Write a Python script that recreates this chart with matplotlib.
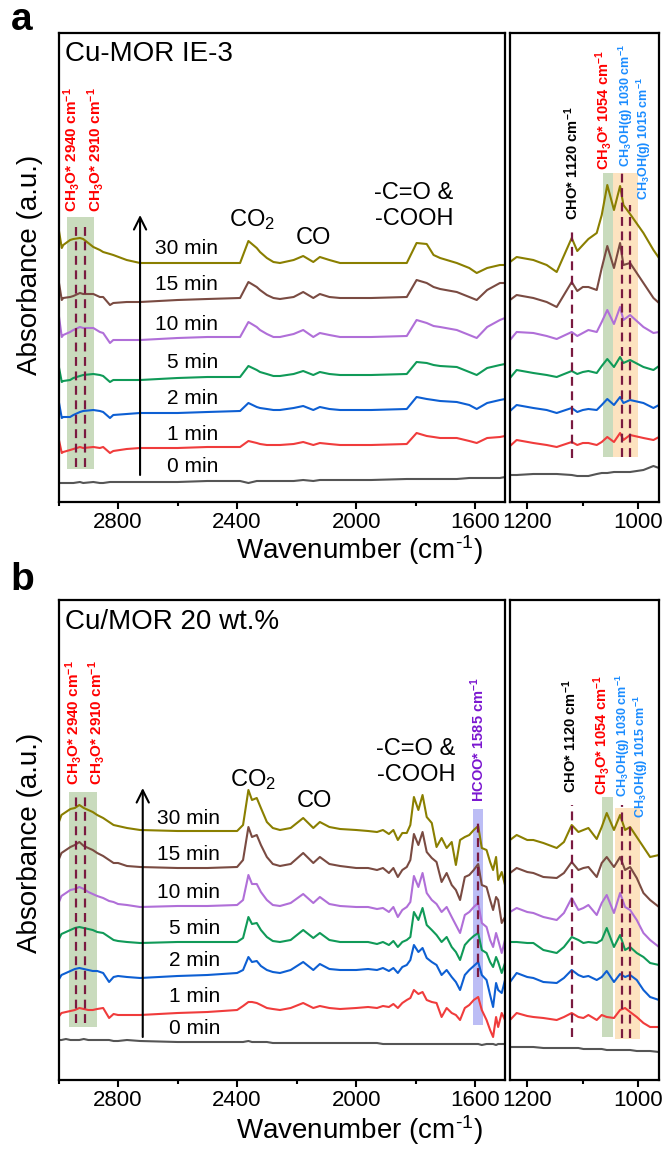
import numpy as np
import matplotlib.pyplot as plt
from matplotlib.ticker import MultipleLocator

plt.rcParams['font.family'] = ['Liberation Sans', 'DejaVu Sans']
plt.rcParams['mathtext.fontset'] = 'custom'
plt.rcParams['mathtext.rm'] = 'Liberation Sans'
plt.rcParams['mathtext.bf'] = 'Liberation Sans:bold'
plt.rcParams['mathtext.default'] = 'regular'

TIMES = ['0 min', '1 min', '2 min', '5 min', '10 min', '15 min', '30 min']
COLORS = ['#555555', '#f03c3c', '#0d5fd3', '#109a58', '#b06fd8', '#7a4b42', '#8a7f00']

# ---- panel a: Cu-MOR IE-3 (stacked spectra, a.u., offsets included) ----
WN_A_LEFT = [3000, 2989, 2984, 2961, 2950, 2928, 2917, 2883, 2861, 2850, 2827, 2816, 2771, 2726,
             2600, 2500, 2390, 2362, 2334, 2323, 2300, 2278, 2256, 2210, 2178, 2144, 2122, 2090,
             2054, 1950, 1830, 1797, 1763, 1740, 1718, 1662, 1620, 1595, 1560, 1517, 1500]
A_LEFT = [
    [27, 27, 27, 27, 27, 28, 27, 28, 27, 27, 28, 28, 28, 28, 28, 29, 29, 27, 29, 29, 29, 29, 29, 29, 30, 29, 30, 30, 30, 30, 31, 31, 31, 31, 31, 31, 32, 32, 32, 32, 33],
    [72, 57, 58, 60, 61, 63, 62, 63, 62, 63, 57, 59, 61, 62, 62, 63, 63, 69, 67, 66, 65, 65, 65, 66, 68, 65, 67, 66, 65, 65, 66, 77, 74, 73, 72, 72, 69, 67, 72, 73, 74],
    [110, 92, 93, 93, 95, 98, 99, 100, 99, 98, 92, 95, 96, 97, 97, 98, 99, 107, 103, 102, 101, 100, 100, 102, 104, 100, 103, 101, 100, 100, 101, 113, 111, 110, 109, 108, 105, 101, 107, 110, 111],
    [145, 128, 129, 130, 132, 134, 135, 136, 135, 134, 128, 130, 130, 130, 132, 133, 133, 144, 140, 138, 136, 134, 134, 136, 139, 135, 138, 136, 135, 135, 136, 148, 147, 145, 144, 143, 138, 135, 142, 145, 146],
    [197, 173, 175, 178, 180, 183, 182, 182, 178, 177, 167, 170, 170, 170, 172, 173, 173, 188, 183, 180, 176, 173, 173, 176, 180, 173, 177, 175, 173, 173, 174, 190, 187, 184, 183, 180, 175, 172, 183, 190, 192],
    [230, 210, 212, 213, 214, 217, 216, 216, 213, 213, 205, 207, 208, 208, 210, 211, 212, 228, 223, 220, 215, 212, 211, 213, 218, 212, 216, 213, 212, 212, 213, 230, 227, 223, 221, 218, 213, 210, 220, 227, 227],
    [282, 262, 265, 270, 271, 272, 271, 263, 260, 258, 256, 255, 250, 247, 247, 247, 247, 269, 262, 258, 252, 248, 247, 250, 254, 248, 253, 250, 247, 247, 247, 267, 266, 255, 252, 247, 242, 237, 242, 245, 245],
]
WN_A_RIGHT = [1231, 1219, 1189, 1165, 1147, 1120, 1110, 1100, 1090, 1075, 1066, 1056, 1044, 1033, 1027, 1015, 991, 973, 963]
A_RIGHT = [
    [35, 35, 36, 36, 36, 35, 34, 34, 34, 36, 37, 37, 38, 38, 38, 38, 40, 44, 42],
    [64, 70, 67, 65, 63, 68, 65, 67, 67, 65, 68, 73, 68, 77, 70, 75, 72, 70, 73],
    [99, 105, 102, 100, 97, 102, 98, 100, 101, 100, 105, 111, 105, 113, 107, 110, 107, 102, 105],
    [132, 140, 137, 135, 133, 139, 136, 138, 139, 137, 144, 151, 143, 153, 147, 150, 143, 140, 144],
    [170, 178, 177, 174, 171, 178, 174, 177, 180, 178, 188, 200, 186, 203, 190, 195, 183, 177, 178],
    [210, 215, 212, 208, 203, 228, 219, 223, 223, 220, 242, 264, 242, 267, 245, 247, 227, 212, 207],
    [248, 253, 250, 245, 238, 272, 259, 265, 271, 277, 295, 325, 300, 324, 305, 296, 277, 260, 252],
]

# ---- panel b: Cu/MOR 20 wt.% ----
WN_B_LEFT = [3000, 2990, 2975, 2960, 2945, 2930, 2915, 2900, 2885, 2870, 2850, 2830, 2815, 2800,
             2770, 2726, 2600, 2500, 2400, 2380, 2362, 2350, 2334, 2320, 2300, 2280, 2256, 2220,
             2178, 2144, 2122, 2090, 2054, 2000, 1960, 1930, 1910, 1890, 1875, 1860, 1845, 1830,
             1818, 1806, 1791, 1777, 1763, 1746, 1730, 1713, 1696, 1679, 1665, 1651, 1635, 1620,
             1605, 1590, 1578, 1562, 1550, 1540, 1530, 1523, 1511, 1500]
B_LEFT = [
    [40, 40, 41, 40, 40, 40, 41, 40, 40, 40, 40, 40, 39, 39, 40, 39, 38, 38, 38, 38, 39, 38, 38, 38, 38, 37, 37, 37, 37, 37, 37, 37, 37,
     37, 37, 37, 36, 36, 36, 36, 36, 36, 36, 36, 36, 36, 36, 36, 36, 36, 36, 36, 36, 36, 36, 36, 36, 36, 35, 36, 36, 36, 35, 36, 36, 36],
    [63, 67, 68, 69, 70, 72, 71, 70, 70, 71, 72, 62, 66, 65, 65, 65, 67, 68, 70, 74, 78, 78, 77, 75, 72, 71, 70, 72, 77, 72, 74, 72, 71,
     72, 73, 72, 74, 73, 76, 72, 77, 80, 82, 90, 86, 88, 80, 78, 77, 63, 72, 67, 65, 60, 72, 75, 80, 83, 70, 60, 50, 43, 63, 53, 67, 60],
    [100, 105, 107, 109, 111, 112, 111, 110, 109, 109, 107, 98, 103, 104, 103, 102, 104, 105, 107, 110, 123, 118, 119, 114, 110, 108, 107, 110, 118, 110, 116, 111, 110,
     110, 111, 110, 112, 109, 112, 107, 113, 115, 120, 135, 128, 132, 122, 118, 115, 105, 110, 103, 98, 90, 105, 110, 114, 118, 105, 100, 85, 73, 97, 90, 87, 100],
    [140, 146, 148, 150, 152, 153, 152, 151, 150, 148, 147, 143, 140, 139, 138, 137, 138, 138, 138, 142, 163, 156, 157, 150, 143, 139, 138, 140, 150, 142, 147, 140, 138,
     138, 138, 136, 138, 135, 139, 133, 138, 140, 143, 168, 160, 172, 155, 150, 145, 138, 143, 133, 128, 120, 135, 140, 144, 147, 130, 127, 118, 113, 123, 118, 107, 117],
    [177, 184, 187, 190, 191, 193, 191, 188, 186, 184, 182, 179, 178, 176, 175, 173, 174, 174, 175, 180, 205, 196, 196, 188, 180, 175, 174, 177, 186, 177, 183, 176, 174,
     173, 173, 171, 172, 168, 173, 163, 170, 173, 178, 204, 193, 207, 187, 180, 176, 168, 173, 163, 155, 147, 165, 168, 173, 177, 157, 153, 140, 133, 147, 140, 127, 140],
    [220, 227, 230, 233, 235, 238, 234, 232, 230, 227, 224, 220, 217, 217, 214, 213, 212, 212, 213, 220, 253, 243, 245, 235, 223, 216, 214, 216, 227, 217, 223, 216, 214,
     212, 212, 210, 212, 207, 212, 203, 210, 213, 220, 246, 235, 248, 228, 222, 218, 198, 207, 195, 190, 180, 203, 205, 210, 216, 195, 193, 180, 170, 183, 180, 157, 163],
    [257, 265, 268, 271, 272, 275, 272, 270, 268, 265, 262, 258, 255, 254, 252, 250, 249, 249, 249, 255, 290, 280, 282, 272, 258, 252, 250, 252, 262, 252, 258, 253, 251,
     250, 249, 248, 250, 246, 250, 240, 247, 247, 255, 283, 270, 285, 263, 257, 233, 242, 232, 238, 215, 240, 243, 245, 250, 254, 232, 230, 218, 210, 223, 200, 208, 195],
]
WN_B_RIGHT = [1231, 1219, 1200, 1189, 1171, 1147, 1134, 1120, 1108, 1099, 1090, 1075, 1066, 1057, 1044, 1033, 1024, 1015, 1003, 991, 979, 963]
B_RIGHT = [
    [33, 33, 33, 33, 32, 32, 32, 32, 32, 31, 31, 31, 31, 30, 30, 30, 30, 30, 29, 29, 29, 28],
    [60, 67, 64, 63, 62, 60, 63, 67, 63, 62, 65, 60, 65, 63, 62, 70, 72, 68, 63, 57, 53, 53],
    [98, 107, 103, 102, 98, 97, 102, 110, 105, 103, 104, 100, 103, 109, 98, 106, 103, 105, 100, 90, 83, 80],
    [138, 138, 137, 137, 130, 127, 133, 143, 140, 137, 138, 137, 140, 152, 133, 145, 130, 133, 127, 123, 117, 115],
    [168, 172, 168, 167, 163, 160, 167, 182, 170, 172, 175, 165, 177, 185, 167, 187, 173, 170, 160, 147, 140, 133],
    [207, 212, 208, 207, 203, 202, 207, 218, 210, 212, 213, 203, 217, 223, 213, 223, 210, 213, 202, 187, 180, 173],
    [240, 245, 240, 240, 237, 232, 238, 255, 248, 250, 252, 241, 253, 267, 250, 265, 250, 253, 243, 233, 223, 225],
]

W, H = 666, 1150
DASH = '#7a1a40'
GREEN_BOX = '#c9dbbd'
ORANGE_BOX = '#fde3c0'
BLUE_TXT = '#1a8cff'

fig = plt.figure(figsize=(W / 100, H / 100), dpi=100)


def add_px_axes(x0, x1, y_top, y_bot):
    return fig.add_axes([x0 / W, 1 - y_bot / H, (x1 - x0) / W, (y_bot - y_top) / H])


def style_axes(ax, lo, hi, major, minor, ylim):
    ax.set_xlim(lo, hi)
    ax.set_ylim(*ylim)
    ax.xaxis.set_major_locator(MultipleLocator(major))
    ax.xaxis.set_minor_locator(MultipleLocator(minor))
    ax.set_yticks([])
    for s in ax.spines.values():
        s.set_linewidth(1.6)
    ax.tick_params(axis='x', which='major', length=5, width=1.5, labelsize=16, pad=2)
    ax.tick_params(axis='x', which='minor', length=3, width=1.5)


def vdash(ax, x, y0, y1):
    ax.plot([x, x], [y0, y1], color=DASH, lw=1.6, ls=(0, (4, 2.5)), zorder=3)


def peak_text(ax, x, y, s, color, size=10.5):
    ax.text(x, y, s, rotation=90, color=color, fontsize=size, fontweight='bold',
            ha='center', va='bottom', zorder=4)


def draw_panel(y_top, y_bot, ylim, wn_l, rows_l, wn_r, rows_r):
    axL = add_px_axes(58.5, 505, y_top, y_bot)
    axR = add_px_axes(510, 659, y_top, y_bot)
    for ax, wn, rows in ((axL, wn_l, rows_l), (axR, wn_r, rows_r)):
        for vals, c in zip(rows, COLORS):
            ax.plot(wn, vals, color=c, lw=1.5, zorder=2)
    style_axes(axL, 3000, 1500, 400, 200, ylim)
    style_axes(axR, 1231, 963, 200, 100, ylim)
    return axL, axR


CH3O = r'CH$_{\mathbf{3}}$O* %s cm$^{\mathbf{-1}}$'
CH3OH = r'CH$_{\mathbf{3}}$OH(g) %s cm$^{\mathbf{-1}}$'
CHO = r'CHO* 1120 cm$^{\mathbf{-1}}$'
XLABEL = r'Wavenumber (cm$^{\text{-}1}$)'

# ================= panel a =================
axL, axR = draw_panel(33, 502, (8, 477), WN_A_LEFT, A_LEFT, WN_A_RIGHT, A_RIGHT)
axL.fill_between([2970, 2880], 41, 293, color=GREEN_BOX, lw=0, zorder=0)
vdash(axL, 2940, 43, 288)
vdash(axL, 2910, 43, 288)
peak_text(axL, 2956, 298, CH3O % '2940', 'red', 11)
peak_text(axL, 2875, 298, CH3O % '2910', 'red', 11)
axL.annotate('', xy=(2726, 295), xytext=(2726, 35),
             arrowprops=dict(arrowstyle='->', color='black', lw=1.5, mutation_scale=22,
                             shrinkA=0, shrinkB=0))
for t, y in zip(TIMES, [43, 75, 112, 147, 186, 225, 261]):
    axL.text(2464, y, t, ha='right', va='center', fontsize=15)
axL.text(2350, 290, 'CO$_2$', ha='center', va='center', fontsize=17)
axL.text(2145, 272, 'CO', ha='center', va='center', fontsize=17)
axL.text(1806, 304, '-C=O &\n-COOH', ha='center', va='center', fontsize=17, multialignment='center')
axL.text(0.015, 0.955, 'Cu-MOR IE-3', transform=axL.transAxes, fontsize=20, ha='left', va='center')

axR.fill_between([1063, 1045], 53, 337, color=GREEN_BOX, lw=0, zorder=0)
axR.fill_between([1045, 1001], 53, 337, color=ORANGE_BOX, lw=0, zorder=0)
vdash(axR, 1120, 52, 282)
vdash(axR, 1030, 53, 337)
vdash(axR, 1015, 53, 305)
peak_text(axR, 1120, 290, CHO, 'black')
peak_text(axR, 1062, 340, CH3O % '1054', 'red')
peak_text(axR, 1023, 343, CH3OH % '1030', BLUE_TXT, 9)
peak_text(axR, 990, 310, CH3OH % '1015', BLUE_TXT, 9)

fig.text(22 / W, 1 - 20 / H, 'a', fontsize=28, fontweight='bold', ha='center', va='center')
fig.text(30 / W, 1 - 265 / H, 'Absorbance (a.u.)', rotation=90, fontsize=20, ha='center', va='center')
fig.text(359 / W, 1 - 550 / H, XLABEL, fontsize=20, ha='center', va='center')

# ================= panel b =================
axL, axR = draw_panel(600, 1080, (0, 480), WN_B_LEFT, B_LEFT, WN_B_RIGHT, B_RIGHT)
axL.fill_between([2964, 2870], 53, 288, color=GREEN_BOX, lw=0, zorder=0)
axL.fill_between([1607, 1573], 55, 271, color='#bcbdf5', lw=0, zorder=0)
vdash(axL, 2940, 57, 285)
vdash(axL, 2910, 57, 285)
vdash(axL, 1590, 103, 260)
peak_text(axL, 2951, 295, CH3O % '2940', 'red', 11)
peak_text(axL, 2874, 295, CH3O % '2910', 'red', 11)
peak_text(axL, 1592, 278, r'HCOO* 1585 cm$^{\mathbf{-1}}$', '#7b16d0')
axL.annotate('', xy=(2717, 292), xytext=(2717, 43),
             arrowprops=dict(arrowstyle='->', color='black', lw=1.5, mutation_scale=22,
                             shrinkA=0, shrinkB=0))
for t, y in zip(TIMES, [51, 83, 120, 152, 187, 225, 262]):
    axL.text(2457, y, t, ha='right', va='center', fontsize=15)
axL.text(2346, 300, 'CO$_2$', ha='center', va='center', fontsize=17)
axL.text(2141, 279, 'CO', ha='center', va='center', fontsize=17)
axL.text(1799, 318, '-C=O &\n-COOH', ha='center', va='center', fontsize=17, multialignment='center')
axL.text(0.015, 0.955, 'Cu/MOR 20 wt.%', transform=axL.transAxes, fontsize=20, ha='left', va='center')

axR.fill_between([1065, 1045], 43, 283, color=GREEN_BOX, lw=0, zorder=0)
axR.fill_between([1042, 997], 41, 272, color=ORANGE_BOX, lw=0, zorder=0)
vdash(axR, 1120, 43, 275)
vdash(axR, 1030, 42, 275)
vdash(axR, 1015, 42, 257)
peak_text(axR, 1123, 287, CHO, 'black')
peak_text(axR, 1066, 285, CH3O % '1054', 'red')
peak_text(axR, 1028, 283, CH3OH % '1030', BLUE_TXT, 9)
peak_text(axR, 995, 262, CH3OH % '1015', BLUE_TXT, 9)

fig.text(22 / W, 1 - 580 / H, 'b', fontsize=28, fontweight='bold', ha='center', va='center')
fig.text(30 / W, 1 - 843 / H, 'Absorbance (a.u.)', rotation=90, fontsize=20, ha='center', va='center')
fig.text(359 / W, 1 - 1130 / H, XLABEL, fontsize=20, ha='center', va='center')

fig.savefig('out.png', dpi=100)
